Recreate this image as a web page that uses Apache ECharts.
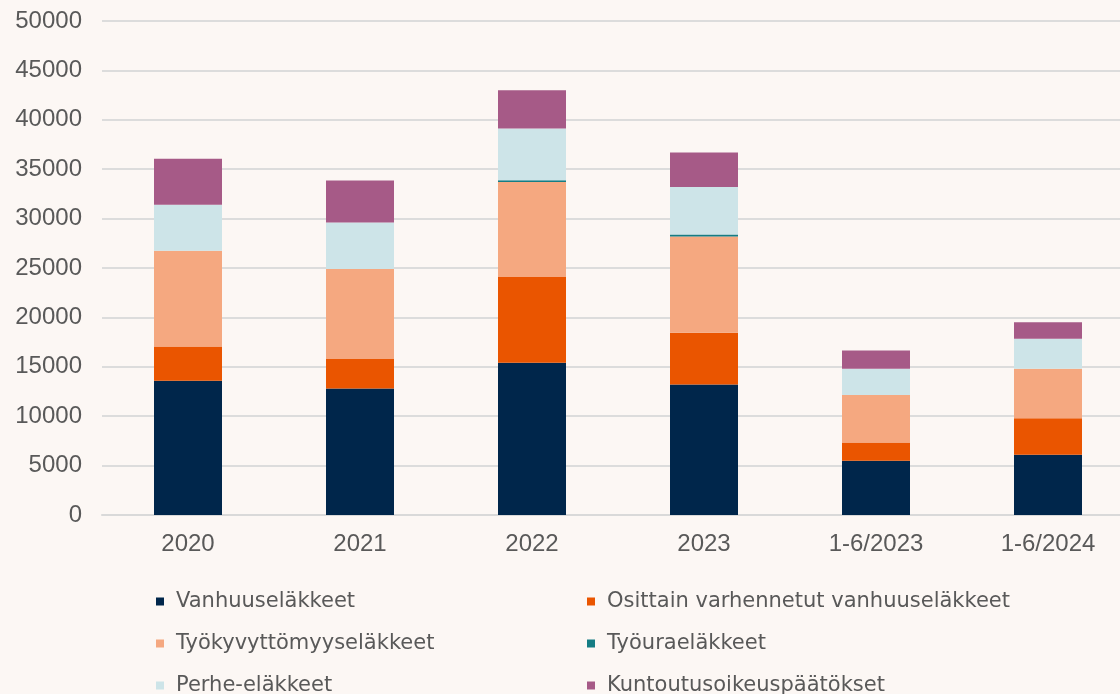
<!DOCTYPE html>
<html>
<head>
<meta charset="utf-8">
<script src="https://cdn.jsdelivr.net/npm/echarts@6/dist/echarts.min.js"></script>
<style>
html,body{margin:0;padding:0;background:#fcf7f4;}
#chart{width:1120px;height:694px;}
</style>
</head>
<body>
<div id="chart"></div>
<script>
const categories = ['2020', '2021', '2022', '2023', '1-6/2023', '1-6/2024'];
const vanhuus = [13600, 12800, 15400, 13200, 5500, 6100];
const osittain = [3450, 3000, 8700, 5250, 1850, 3700];
const tyokyvyttomyys = [9700, 9100, 9600, 9750, 4800, 5000];
const tyoura = [0, 0, 180, 200, 0, 0];
const perhe = [4650, 4700, 5250, 4800, 2650, 3050];
const kuntoutus = [4650, 4250, 3850, 3500, 1850, 1650];
const yTicks = [0, 5000, 10000, 15000, 20000, 25000, 30000, 35000, 40000, 45000, 50000];

const names = ['Vanhuuseläkkeet', 'Osittain varhennetut vanhuuseläkkeet', 'Työkyvyttömyyseläkkeet', 'Työuraeläkkeet', 'Perhe-eläkkeet', 'Kuntoutusoikeuspäätökset'];
const colors = ['#00264b', '#ea5500', '#f5a880', '#157d84', '#cde4e8', '#a65a87'];
const dataSets = [vanhuus, osittain, tyokyvyttomyys, tyoura, perhe, kuntoutus];

const chart = echarts.init(document.getElementById('chart'), null, {renderer: 'canvas'});
const legendPos = [[151, 586], [582, 586], [151, 628], [582, 628], [151, 670], [582, 670]];
const legends = names.map((n, i) => ({
  orient: 'horizontal',
  icon: 'rect',
  itemWidth: 8,
  itemHeight: 8,
  left: legendPos[i][0],
  top: legendPos[i][1],
  data: [n],
  textStyle: {fontFamily: 'DejaVu Sans', fontSize: 21, lineHeight: 21, color: '#595959', padding: [0, 0, 0, 7]}
}));
const yMin = yTicks[0], yMax = yTicks[yTicks.length - 1], yInt = yTicks[1] - yTicks[0];
chart.setOption({
  backgroundColor: '#fcf7f4',
  animation: false,
  color: colors,
  grid: [
    {left: 102, right: 0, top: 21, bottom: 179, containLabel: false},
    {left: 188, width: 860, top: 21, bottom: 179, containLabel: false}
  ],
  legend: legends,
  xAxis: [
    {
      gridIndex: 0,
      type: 'category',
      data: categories,
      axisTick: {show: false},
      axisLabel: {show: false},
      axisLine: {lineStyle: {color: '#d9d9d9', width: 2}}
    },
    {
      gridIndex: 1,
      type: 'category',
      data: categories,
      boundaryGap: false,
      axisTick: {show: false},
      axisLine: {show: false},
      splitLine: {show: false},
      axisLabel: {fontFamily: 'Liberation Sans', fontSize: 24, color: '#595959', margin: 17}
    }
  ],
  yAxis: [
    {
      gridIndex: 0,
      type: 'value',
      min: yMin, max: yMax, interval: yInt,
      axisLine: {show: false},
      axisTick: {show: false},
      splitLine: {lineStyle: {color: '#dcdcdc', width: 2}},
      axisLabel: {fontFamily: 'Liberation Sans', fontSize: 24, color: '#595959', margin: 20, formatter: v => String(v)}
    },
    {
      gridIndex: 1,
      type: 'value',
      min: yMin, max: yMax, interval: yInt,
      show: false,
      splitLine: {show: false}
    }
  ],
  series: dataSets.map((d, i) => ({
    name: names[i],
    type: 'bar',
    stack: 'total',
    xAxisIndex: 1,
    yAxisIndex: 1,
    barWidth: 68,
    data: d,
    itemStyle: {color: colors[i]}
  }))
});
</script>
</body>
</html>
